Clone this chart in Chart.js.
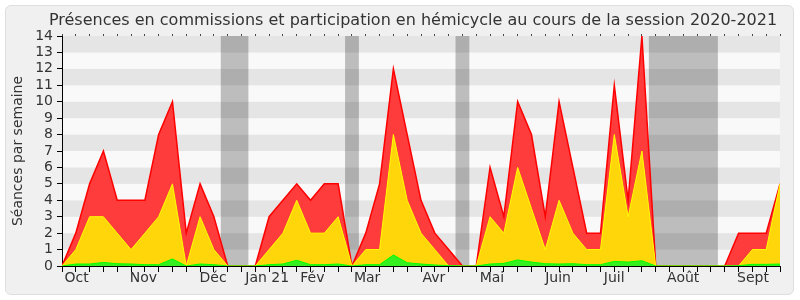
<!DOCTYPE html>
<html>
<head>
<meta charset="utf-8">
<script src="https://cdn.jsdelivr.net/npm/chart.js@4"></script>
<style>
body { margin: 0; background: #fff; }
#cadre { position: absolute; left: 5px; top: 5px; width: 787px; height: 288px; background: #f0f0f0; border: 1px solid #dedede; border-radius: 6px; }
canvas { position: absolute; left: 0; top: 0; }
</style>
</head>
<body>
<div id="cadre"></div>
<canvas id="presences" width="800" height="300"></canvas>
<script>
// une valeur par semaine, de fin septembre 2020 a fin septembre 2021
const semaines = Array.from({length: 53}, (_, i) => i);
const rouge = [0,2,5,7,4,4,4,8,10,2,5,3,0, 0,0, 3,4,5,4,5,5, 0, 2,5,12,8,4,2,1, 0,0, 6,3,10,8,3,10,6,2,2,11,4,14, 0,0,0,0,0,0, 2,2,2,5];
const jaune = [0,1,3,3,2,1,2,3,5,0,3,1,0, 0,0, 1,2,4,2,2,3, 0, 1,1,8,4,2,1,0, 0,0, 3,2,6,3.5,1,4,2,1,1,8,3,7, 0,0,0,0,0,0, 0,1,1,5];
const vert = [0,0.12,0.12,0.22,0.14,0.12,0.08,0.08,0.43,0,0.12,0.08,0, 0,0, 0.08,0.12,0.35,0.08,0.08,0.12, 0, 0.08,0.08,0.67,0.2,0.12,0.06,0.02, 0,0, 0.12,0.16,0.37,0.24,0.14,0.12,0.14,0.08,0.08,0.28,0.24,0.32, 0,0,0,0,0,0, 0.02,0.1,0.1,0.12];
const mois = ["Oct", "Nov", "Déc", "Jan 21", "Fév", "Mar", "Avr", "Mai", "Juin", "Juil", "Août", "Sept"];
const positionsMois = [1.06, 5.89, 10.94, 14.86, 18.13, 22.1, 26.94, 31.14, 35.93, 39.99, 44.99, 50.04];
const vacances = [[11.5, 13.5], [20.5, 21.5], [28.5, 29.5], [42.5, 47.5]];

Chart.defaults.font.family = "'DejaVu Sans', sans-serif";
Chart.defaults.color = "#333";

const ticksBas = semaines.map(v => ({value: v}))
  .concat(positionsMois.map((v, k) => ({value: v, mois: mois[k]})));

const fond = {
  id: "fond",
  beforeDraw(chart) {
    const {ctx, chartArea: a, scales: {x, y}} = chart;
    ctx.save();
    for (let v = 0; v < 14; v++) {
      const haut = y.getPixelForValue(v + 1), bas = y.getPixelForValue(v);
      ctx.fillStyle = v % 2 ? "#e5e5e5" : "#f9f9f9";
      ctx.fillRect(a.left, haut, a.width, bas - haut);
    }
    ctx.fillStyle = "rgba(0,0,0,0.24)";
    vacances.forEach(([debut, fin]) => {
      const g = x.getPixelForValue(debut), d = x.getPixelForValue(fin);
      ctx.fillRect(g, a.top, d - g, a.height);
    });
    ctx.restore();
  }
};

function serie(valeurs, trait, remplissage, epaisseur) {
  return {
    data: valeurs.map((v, i) => ({x: semaines[i], y: v})),
    borderColor: trait,
    backgroundColor: remplissage,
    borderWidth: epaisseur,
    fill: "origin",
    pointRadius: 0,
    tension: 0
  };
}

new Chart(document.getElementById("presences"), {
  type: "line",
  data: {
    datasets: [
      serie(vert, "#00ff00", "#33f01e", 1),
      serie(jaune, "#ffff00", "#ffd60a", 1),
      serie(rouge, "#ff0000", "#ff3c3c", 1.5)
    ]
  },
  options: {
    responsive: false,
    animation: false,
    layout: {padding: {left: 26, right: 0, top: 0, bottom: 0}},
    plugins: {
      legend: {display: false},
      tooltip: {enabled: false},
      title: {
        display: true,
        text: "Présences en commissions et participation en hémicycle au cours de la session 2020-2021",
        color: "#333",
        font: {size: 16, weight: "normal"},
        padding: {top: 11.5, bottom: 3.3}
      }
    },
    scales: {
      x: {
        type: "linear", position: "bottom", min: 0, max: 52,
        afterBuildTicks(s) { s.ticks = ticksBas.map(t => ({...t})); },
        afterFit(s) { s.height = 34; },
        ticks: {
          autoSkip: false, maxRotation: 0, padding: -2, font: {size: 14},
          callback: (v, i, t) => t[i].mois || ""
        },
        grid: {
          drawOnChartArea: false, tickLength: 6,
          tickColor: c => (c.tick && c.tick.mois) ? "rgba(0,0,0,0)" : "#000"
        },
        border: {color: "#000"}
      },
      xHaut: {
        type: "linear", position: "top", min: 0, max: 52,
        afterBuildTicks(s) { s.ticks = semaines.map(v => ({value: v})); },
        afterFit(s) { s.height = 2; },
        ticks: {display: false},
        grid: {drawOnChartArea: false, tickLength: 2, tickColor: "#444"},
        border: {display: false}
      },
      y: {
        min: 0, max: 14,
        afterFit(s) { s.width = 36; },
        ticks: {stepSize: 1, autoSkip: false, padding: 4, font: {size: 14}},
        grid: {drawOnChartArea: false, tickLength: 5, tickColor: "#000"},
        border: {color: "#000"},
        title: {
          display: true, text: "Séances par semaine", color: "#333",
          font: {size: 14}, padding: {top: -16.4, bottom: 0}
        }
      },
      yDroite: {
        type: "linear", position: "right",
        afterFit(s) { s.width = 20; },
        ticks: {display: false},
        grid: {display: false},
        border: {display: false}
      }
    }
  },
  plugins: [fond]
});
</script>
</body>
</html>
